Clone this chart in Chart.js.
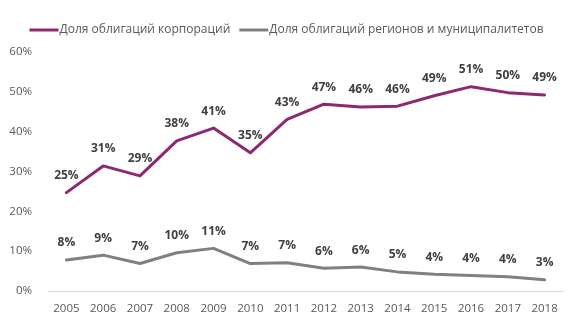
<!DOCTYPE html>
<html>
<head>
<meta charset="utf-8">
<script src="https://cdn.jsdelivr.net/npm/chart.js@4"></script>
<style>
  html, body { margin: 0; padding: 0; background: #fff; }
  #wrap { width: 573px; height: 326px; }
</style>
</head>
<body>
<div id="wrap"><canvas id="c" width="573" height="326"></canvas></div>
<script>
const years = ["2005", "2006", "2007", "2008", "2009", "2010", "2011",
  "2012", "2013", "2014", "2015", "2016", "2017", "2018"];
const corporate = [24.7, 31.4, 28.9, 37.7, 40.9, 34.7, 43.1, 46.9, 46.2, 46.4, 49.0, 51.3, 49.8, 49.2];
const regional = [7.8, 9.0, 6.9, 9.6, 10.7, 6.9, 7.1, 5.7, 6.0, 4.8, 4.2, 3.9, 3.6, 2.8];
const seriesNames = ["Доля облигаций корпораций", "Доля облигаций регионов и муниципалитетов"];
const seriesColors = ["#8E2870", "#808080"];

const FONT = "'Open Sans', 'Noto Sans', sans-serif";

// values above points
const pointLabels = {
  id: "pointLabels",
  afterDatasetsDraw(chart) {
    const ctx = chart.ctx;
    ctx.save();
    ctx.font = "bold 12px " + FONT;
    ctx.fillStyle = "#404040";
    ctx.textAlign = "center";
    ctx.textBaseline = "middle";
    chart.data.datasets.forEach((ds, i) => {
      chart.getDatasetMeta(i).data.forEach((pt, j) => {
        ctx.fillText(Math.round(ds.data[j]) + "%", pt.x, pt.y - 17);
      });
    });
    ctx.restore();
  },
};

// legend at the top, line sample right against the text
const topLegend = {
  id: "topLegend",
  afterDraw(chart) {
    const ctx = chart.ctx;
    ctx.save();
    ctx.font = "12px " + FONT;
    ctx.textBaseline = "middle";
    const y = 30;
    const sample = 29, gap = 1, itemGap = 9;
    const items = chart.data.datasets.map(ds => ({
      label: ds.label, color: ds.borderColor, w: sample + gap + ctx.measureText(ds.label).width,
    }));
    const total = items.reduce((s, it) => s + it.w, 0) + itemGap * (items.length - 1);
    let x = (chart.width - total) / 2;
    items.forEach(it => {
      ctx.strokeStyle = it.color;
      ctx.lineWidth = 3;
      ctx.beginPath();
      ctx.moveTo(x, y);
      ctx.lineTo(x + sample, y);
      ctx.stroke();
      ctx.fillStyle = "#595959";
      ctx.fillText(it.label, x + sample + gap, y);
      x += it.w + itemGap;
    });
    ctx.restore();
  },
};

new Chart(document.getElementById("c"), {
  type: "line",
  data: {
    labels: years,
    datasets: [
      { label: seriesNames[0], data: corporate, borderColor: seriesColors[0] },
      { label: seriesNames[1], data: regional, borderColor: seriesColors[1] },
    ],
  },
  options: {
    responsive: false,
    animation: false,
    layout: { padding: { top: 52, left: 8, right: 10, bottom: 7 } },
    elements: {
      line: { borderWidth: 3, tension: 0, borderCapStyle: "round", borderJoinStyle: "round" },
      point: { radius: 0 },
    },
    plugins: { legend: { display: false }, tooltip: { enabled: false } },
    scales: {
      x: {
        offset: true,
        grid: { display: false },
        border: { display: true, color: "#D9D9D9", width: 1 },
        ticks: { color: "#595959", font: { family: FONT, size: 11.5 }, maxRotation: 0, autoSkip: false },
        afterFit(s) { s.height = 28; },
      },
      y: {
        min: 0,
        max: 60,
        ticks: { stepSize: 10, padding: 8, color: "#595959", font: { family: FONT, size: 11.5 }, callback: v => v + "%" },
        grid: { display: false },
        border: { display: false },
        afterFit(s) { s.width = 40; },
      },
    },
  },
  plugins: [pointLabels, topLegend],
});
</script>
</body>
</html>
